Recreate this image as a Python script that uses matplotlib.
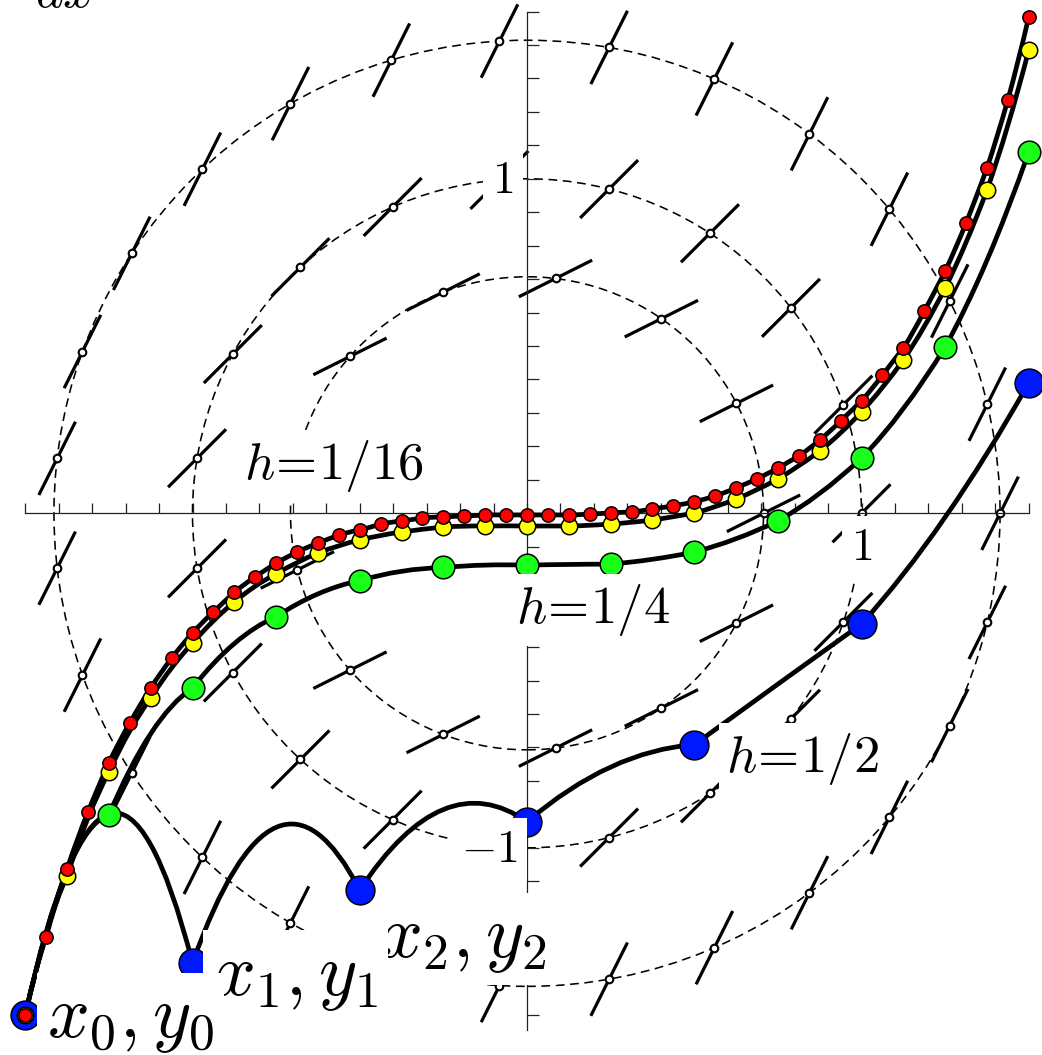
import numpy as np
import matplotlib
matplotlib.use("Agg")
import matplotlib.pyplot as plt
from matplotlib.path import Path
from matplotlib.patches import PathPatch, Circle
from matplotlib.collections import LineCollection

plt.rcParams['mathtext.fontset'] = 'cm'
plt.rcParams['font.family'] = ['DejaVu Sans']

# ---------------- data ----------------
X_START = -1.5
steps = [1/16, 1/8, 1/4, 1/2]

y_h16 = [-1.5, -1.266, -1.063, -0.893, -0.746, -0.627, -0.522, -0.433, -0.358,
         -0.295, -0.236, -0.190, -0.149, -0.116, -0.089, -0.065, -0.050, -0.032,
         -0.023, -0.014, -0.011, -0.008, -0.005, -0.005, -0.005, -0.005, -0.005,
         -0.002, 0.001, 0.004, 0.013, 0.022, 0.034, 0.052, 0.076, 0.103, 0.135,
         0.171, 0.219, 0.276, 0.336, 0.413, 0.494, 0.605, 0.724, 0.868, 1.032,
         1.236, 1.484]
y_h8 = [-1.5, -1.084, -0.773, -0.552, -0.388, -0.265, -0.181, -0.119, -0.080,
        -0.056, -0.041, -0.038, -0.038, -0.038, -0.032, -0.020, 0.001, 0.043,
        0.103, 0.186, 0.303, 0.458, 0.673, 0.966, 1.385]
y_h4 = [-1.5, -0.902, -0.522, -0.309, -0.201, -0.162, -0.155, -0.152, -0.116,
        -0.023, 0.165, 0.497, 1.080]
y_h2 = [-1.5, -1.344, -1.126, -0.922, -0.692, -0.331, 0.390]

series_y = [y_h16, y_h8, y_h4, y_h2]
series_colors = ['#ff0000', '#ffff00', '#1aff1a', '#0018ff']
marker_sizes = [92, 140, 265, 430]   # points^2

# isoclines  x^2 + y^2 = c  (slope c on each), number of slope marks on each
iso_c = [0.5, 1.0, 2.0]
iso_nmarks = [13, 19, 27]
mark_len = 0.245

point_labels = [r'$x_0,y_0$', r'$x_1,y_1$', r'$x_2,y_2$']
tick_labels_x = {1.0: r'$1$'}
tick_labels_y = {1.0: r'$1$', -1.0: r'$-1$'}


def f(x, y):
    return x ** 2 + y ** 2


# ---------------- figure ----------------
fig = plt.figure(figsize=(10.42, 10.55), dpi=100)
ax = fig.add_axes([0, 0, 1, 1])
ax.set_xlim(-1.5755, 1.5396)
ax.set_ylim(-1.6194, 1.5345)

# axes through origin
for side in ['top', 'right']:
    ax.spines[side].set_visible(False)
ax.spines['left'].set_position(('data', 0))
ax.spines['bottom'].set_position(('data', 0))
ax.spines['left'].set_bounds(-1.545, 1.5)
ax.spines['bottom'].set_bounds(-1.5, 1.5)
for s in ['left', 'bottom']:
    ax.spines[s].set_linewidth(0.9)
    ax.spines[s].set_color('#222222')
    ax.spines[s].set_zorder(2.5)
ticks = np.round(np.arange(-1.5, 1.5001, 0.1), 2)
ax.set_xticks(ticks)
ax.set_yticks(ticks)
ax.tick_params(axis='both', direction='in', labelbottom=False, labelleft=False,
               width=0.9, color='#222222')
ax.tick_params(axis='x', length=7.5)
ax.tick_params(axis='y', length=8.5)

# dashed isocline circles
for c in iso_c:
    ax.add_patch(Circle((0, 0), np.sqrt(c), fill=False, lw=1.15, color='black',
                        ls=(0, (5.5, 3.5)), zorder=1))

# slope field marks on the isoclines
segs = []
cx, cy = [], []
for c, n in zip(iso_c, iso_nmarks):
    r = np.sqrt(c)
    th = 2 * np.pi * np.arange(n) / n
    px, py = r * np.cos(th), r * np.sin(th)
    d = np.array([1.0, c]) / np.hypot(1.0, c) * mark_len / 2
    for a, b in zip(px, py):
        segs.append([(a - d[0], b - d[1]), (a + d[0], b + d[1])])
    cx.extend(px)
    cy.extend(py)
ax.add_collection(LineCollection(segs, colors='black', linewidths=2.3,
                                 capstyle='butt', zorder=2))
ax.scatter(cx, cy, s=30, facecolor='white', edgecolor='black', linewidths=1.5,
           zorder=2.2)

# solution curves: quadratic pieces starting with the field slope
for h, ys in zip(steps, series_y):
    ys = np.asarray(ys)
    xs = X_START + h * np.arange(len(ys))
    verts = [(xs[0], ys[0])]
    codes = [Path.MOVETO]
    for i in range(len(xs) - 1):
        m = f(xs[i], ys[i])
        verts.append((xs[i] + h / 2, ys[i] + h / 2 * m))
        verts.append((xs[i + 1], ys[i + 1]))
        codes += [Path.CURVE3, Path.CURVE3]
    ax.add_patch(PathPatch(Path(verts, codes), fill=False, lw=3.4,
                           edgecolor='black', capstyle='round',
                           joinstyle='round', zorder=3))

# points (green under blue, then yellow, red on top)
order = [2, 3, 1, 0]
for z, idx in enumerate(order):
    h = steps[idx]
    ys = np.asarray(series_y[idx])
    xs = X_START + h * np.arange(len(ys))
    ax.scatter(xs, ys, s=marker_sizes[idx], facecolor=series_colors[idx],
               edgecolor='black', linewidths=1.1, zorder=4 + z)

# labels
box = dict(boxstyle='square,pad=0.15', fc='white', ec='none')
ax.text(-0.577, 0.141, r'$h\!=\!1/16$', fontsize=38, ha='center', va='center',
        bbox=box, zorder=10)
ax.text(0.197, -0.289, r'$h\!=\!1/4$', fontsize=38, ha='center', va='center',
        bbox=box, zorder=10)
ax.text(0.825, -0.735, r'$h\!=\!1/2$', fontsize=38, ha='center', va='center',
        bbox=box, zorder=10)

# point labels: later points drawn first so earlier labels lie on top
boxp = dict(boxstyle='square,pad=0.13', fc='white', ec='none')
label_pos = [(-1.435, -1.566), (-0.939, -1.439), (-0.439, -1.328)]
label_z = [10.2, 10.1, 3.6]
for k in [2, 1, 0]:
    ax.text(label_pos[k][0], label_pos[k][1], point_labels[k], fontsize=53,
            ha='left', va='baseline', bbox=boxp, zorder=label_z[k])

boxt = dict(boxstyle='square,pad=0.2', fc='white', ec='none')
for v, s in tick_labels_x.items():
    ax.text(v, -0.102, s, fontsize=33, ha='center', va='center', bbox=boxt, zorder=10)
ax.text(-0.072, 0.994, tick_labels_y[1.0], fontsize=33, ha='center', va='center',
        bbox=boxt, zorder=10)
ax.text(-0.111, -1.006, tick_labels_y[-1.0], fontsize=33, ha='center', va='center',
        bbox=boxt, zorder=10)

# cropped label at the top (only its lower edge shows, as in the reference)
ax.text(-1.471, 1.514, r'$dx$', fontsize=38, ha='left', va='baseline', zorder=10)

fig.savefig('out.png', dpi=100)
